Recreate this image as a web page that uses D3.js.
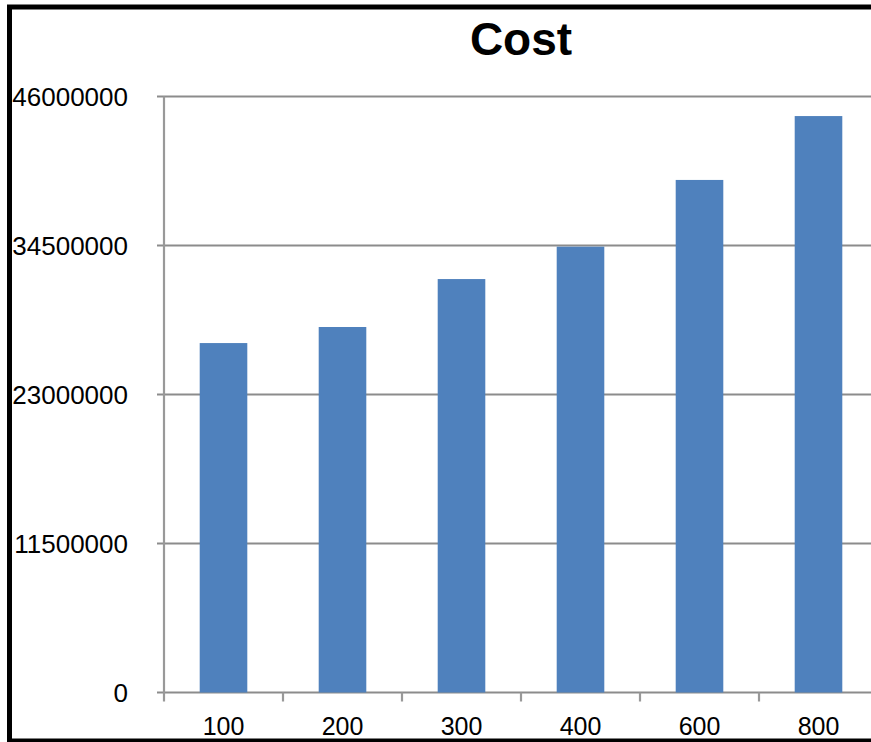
<!DOCTYPE html>
<html>
<head>
<meta charset="utf-8">
<script src="https://cdn.jsdelivr.net/npm/d3@7"></script>
<style>
  body { margin: 0; background: #fff; }
  svg { display: block; font-family: "Liberation Sans", Arial, Helvetica, sans-serif; }
</style>
</head>
<body>
<div id="chart"></div>
<script>
var categories = ["100", "200", "300", "400", "600", "800"];
var costValues = [26970000, 28210000, 31910000, 34410000, 39560000, 44490000];
var yTicks = [0, 11500000, 23000000, 34500000, 46000000];
var chartTitle = "Cost";

var width = 871;
var height = 742;
var plot = { left: 164, right: 878, top: 96.5, bottom: 692.5 };

var svg = d3.select("#chart").append("svg")
    .attr("width", width)
    .attr("height", height);

// outer frame (clipped on the right like the source image)
svg.append("rect")
    .attr("x", 9.5)
    .attr("y", 7)
    .attr("width", 920)
    .attr("height", 734)
    .attr("fill", "#fff")
    .attr("stroke", "#000")
    .attr("stroke-width", 5);

var xScale = d3.scaleBand()
    .domain(categories)
    .range([plot.left, plot.right])
    .padding(0);

var yScale = d3.scaleLinear()
    .domain([0, 46000000])
    .range([plot.bottom, plot.top]);

// gridlines + y labels
var yg = svg.append("g").attr("class", "y-axis");
yg.selectAll("line.grid")
    .data(yTicks)
    .enter()
    .append("line")
    .attr("class", "grid")
    .attr("x1", plot.left - 7)
    .attr("x2", width + 10)
    .attr("y1", d => yScale(d))
    .attr("y2", d => yScale(d))
    .attr("stroke", "#8c8c8c")
    .attr("stroke-width", 2.2);

yg.selectAll("text")
    .data(yTicks)
    .enter()
    .append("text")
    .attr("x", 128)
    .attr("y", d => yScale(d))
    .attr("dy", "0.35em")
    .attr("text-anchor", "end")
    .style("font-size", "26px")
    .style("fill", "#000")
    .text(d => d3.format("d")(d));

// bars
var barFrac = 0.4;
svg.selectAll(".bar")
    .data(costValues)
    .enter()
    .append("rect")
    .attr("class", "bar")
    .attr("x", (d, i) => xScale(categories[i]) + xScale.bandwidth() * (1 - barFrac) / 2)
    .attr("width", xScale.bandwidth() * barFrac)
    .attr("y", d => yScale(d))
    .attr("height", d => yScale(0) - yScale(d))
    .style("fill", "#4F81BD");

// y axis line
svg.append("line")
    .attr("x1", plot.left)
    .attr("x2", plot.left)
    .attr("y1", plot.top)
    .attr("y2", plot.bottom + 9)
    .attr("stroke", "#999")
    .attr("stroke-width", 2.2);

// x tick marks between categories
svg.selectAll("line.xtick")
    .data(categories.slice(0, -1))
    .enter()
    .append("line")
    .attr("class", "xtick")
    .attr("x1", d => xScale(d) + xScale.bandwidth())
    .attr("x2", d => xScale(d) + xScale.bandwidth())
    .attr("y1", plot.bottom)
    .attr("y2", plot.bottom + 9)
    .attr("stroke", "#999")
    .attr("stroke-width", 2.2);

// x labels
svg.append("g")
    .attr("class", "x-axis")
    .attr("transform", "translate(0," + plot.bottom + ")")
    .call(d3.axisBottom(xScale).tickSize(0).tickPadding(0))
    .call(g => g.select(".domain").remove())
    .selectAll("text")
    .attr("y", 42)
    .attr("dy", 0)
    .style("font-size", "25px")
    .style("font-family", "'Liberation Sans', Arial, sans-serif")
    .style("fill", "#000");

// title
svg.append("text")
    .attr("x", 521)
    .attr("y", 55)
    .attr("text-anchor", "middle")
    .style("font-size", "46px")
    .style("font-weight", "bold")
    .text(chartTitle);
</script>
</body>
</html>
